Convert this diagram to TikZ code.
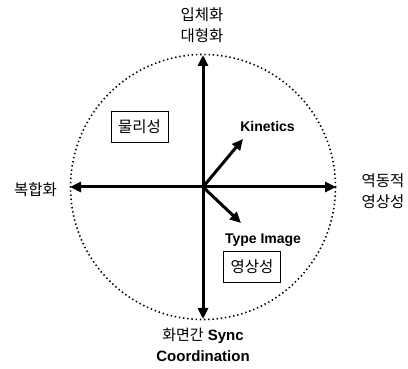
\documentclass[tikz,border=0pt]{standalone}
\usepackage{fontspec}
\setmainfont{Liberation Sans}
\newfontfamily\kr{Noto Sans CJK KR}
\usetikzlibrary{arrows.meta}
\begin{document}
\begin{tikzpicture}[x=1pt,y=-1pt,
  axis/.style={line width=3pt,{Triangle[length=11pt,width=10pt]}-{Triangle[length=11pt,width=10pt]}},
  vec/.style={line width=3pt,-{Triangle[length=11pt,width=10pt]}},
  krlabel/.style={font=\kr\fontsize{15.5}{21}\selectfont,align=center,inner sep=0pt},
  enlabel/.style={font=\bfseries\fontsize{14}{16}\selectfont,inner sep=0pt},
  boxlabel/.style={draw,line width=0.8pt,font=\kr\fontsize{15.5}{17}\selectfont,minimum width=57pt,minimum height=31pt,inner sep=0pt}]
\useasboundingbox (0,0) rectangle (408,369);
\coordinate (c) at (203,187);
\draw[line width=1.6pt,dash pattern=on 1.4pt off 2.8pt] (c) circle (132.5);
\coordinate (top) at (203,55);
\coordinate (bot) at (203,319);
\coordinate (lft) at (70,187);
\coordinate (rgt) at (336,187);
\coordinate (kin) at (243,139);
\coordinate (typ) at (241,223);
\draw[axis] (bot) -- (top);
\draw[axis] (lft) -- (rgt);
\draw[vec] (c) -- (kin);
\draw[vec] (c) -- (typ);
\node[krlabel] (t1) at (202,25) {입체화\\대형화};
\node[krlabel,anchor=east] (l1) at (57,190) {복합화};
\node[krlabel] (r1) at (383,191) {역동적\\영상성};
\node[boxlabel] (b1) at (139.5,127) {물리성};
\node[boxlabel] (b2) at (252,267) {영상성};
\node[enlabel] (k1) at (267.5,126) {Kinetics};
\node[enlabel] (ti) at (263,240) {Type Image};
\node[align=center,inner sep=0pt,font=\fontsize{15}{21}\selectfont] (s1) at (203,345) {{\kr 화면간} \textbf{Sync}\\\textbf{Coordination}};
\end{tikzpicture}
\end{document}
